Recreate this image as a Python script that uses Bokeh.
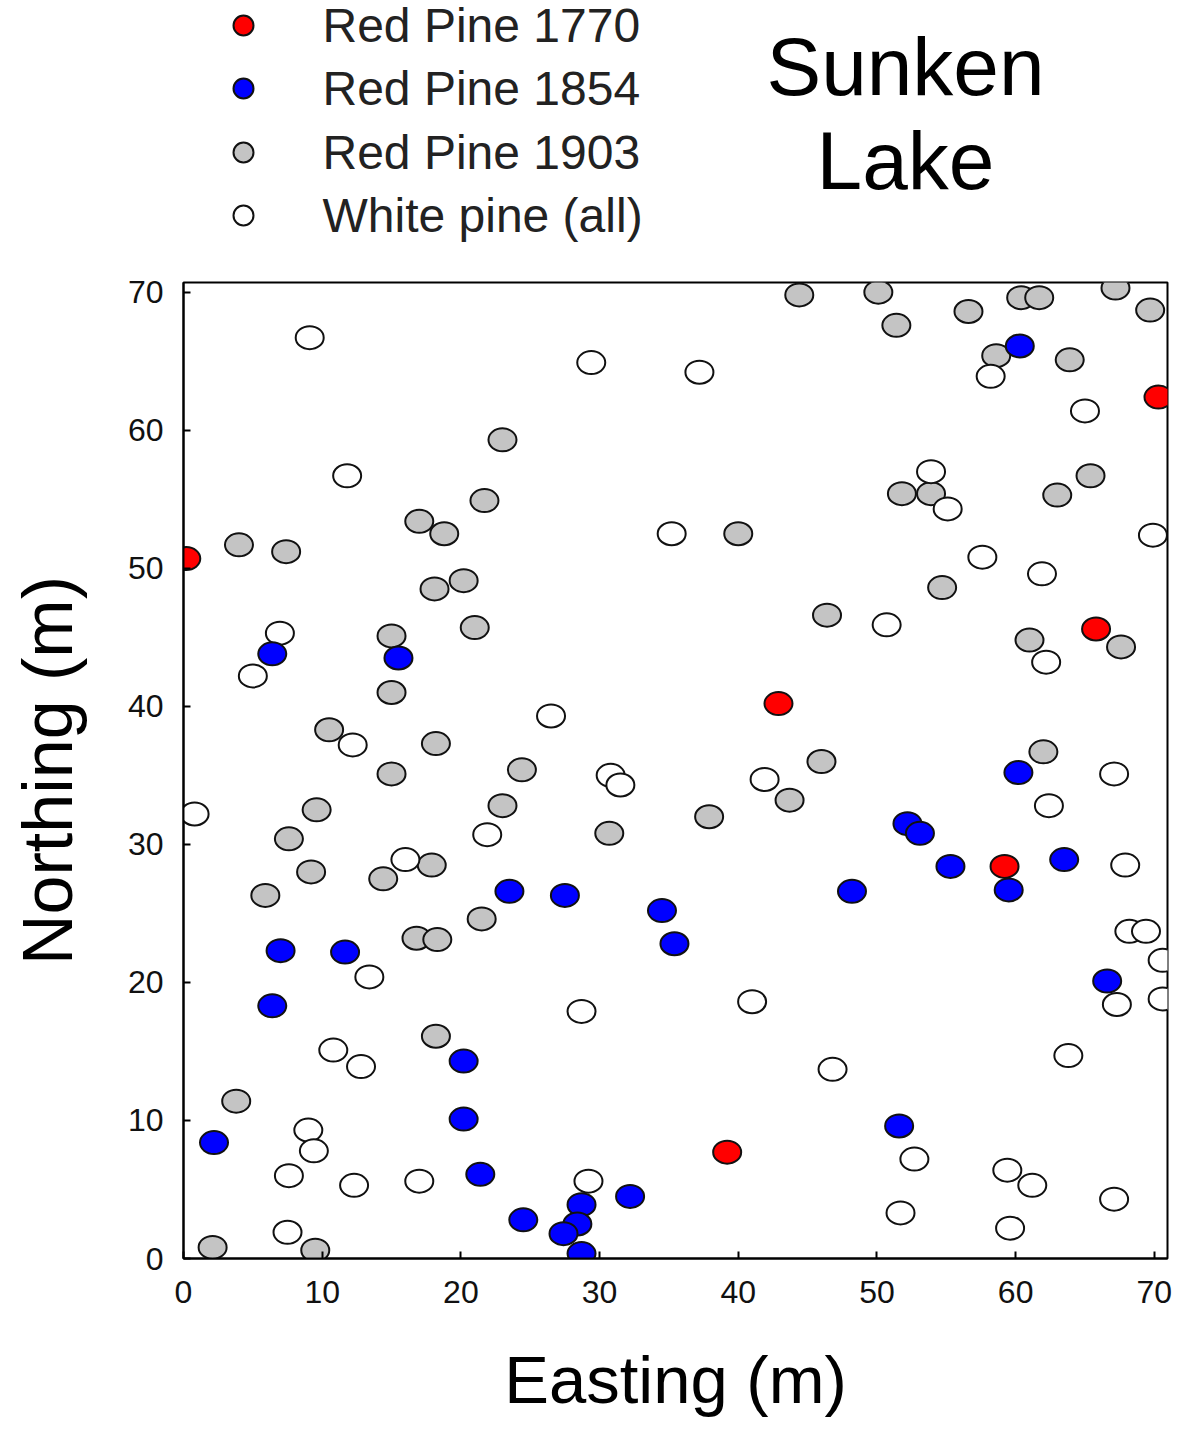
from bokeh.plotting import figure
from bokeh.models import Range1d, FixedTicker
from bokeh.layouts import column
from bokeh.embed import file_html
from bokeh.resources import INLINE
from bokeh.core.properties import value

# ---------------- data ----------------
series_names = ["Red Pine 1770", "Red Pine 1854", "Red Pine 1903", "White pine (all)"]
series_colors = ["#ff0000", "#0000ff", "#c4c4c4", "#ffffff"]

red1770_x = [0.2, 70.3, 65.8, 42.9, 59.2, 39.2]
red1770_y = [50.7, 62.4, 45.6, 40.2, 28.4, 7.7]

red1854_x = [60.3, 6.4, 15.5, 60.2, 52.2, 53.1, 55.3, 59.5, 63.5, 48.2, 66.6, 51.6,
             23.5, 27.5, 34.5, 35.4, 7.0, 11.65, 6.4, 20.2, 20.2, 21.4, 2.2, 24.5,
             32.2, 28.7, 28.4, 27.4, 28.7]
red1854_y = [66.1, 43.8, 43.5, 35.2, 31.5, 30.8, 28.4, 26.7, 28.9, 26.6, 20.1, 9.6,
             26.6, 26.3, 25.2, 22.8, 22.3, 22.2, 18.3, 14.3, 10.1, 6.1, 8.4, 2.8,
             4.5, 3.9, 2.5, 1.8, 0.36]

red1903_x = [23.0, 21.7, 17.0, 18.8, 4.0, 7.4, 18.1, 20.2,
             44.4, 40.0,
             50.1, 51.4, 56.6, 60.4, 61.7, 67.2, 69.7, 58.6, 63.9, 51.8, 53.9, 63.0, 65.4, 54.7,
             21.0, 15.0, 15.0, 10.5, 18.2, 15.0, 24.4, 9.6, 7.6, 23.0, 9.2, 5.9, 17.9, 14.4, 21.5,
             46.4, 46.0, 43.7, 37.9, 30.7,
             61.0, 67.6, 62.0,
             16.8, 18.3, 18.2, 3.8, 2.1, 9.5]
red1903_y = [59.3, 54.9, 53.4, 52.5, 51.7, 51.2, 48.5, 49.1,
             69.8, 52.5,
             70.0, 67.6, 68.6, 69.6, 69.6, 70.3, 68.7, 65.4, 65.1, 55.4, 55.4, 55.3, 56.7, 48.6,
             45.7, 45.1, 41.0, 38.3, 37.3, 35.1, 35.4, 32.5, 30.4, 32.8, 28.0, 26.3, 28.5, 27.5, 24.6,
             46.6, 36.0, 33.2, 32.0, 30.8,
             44.8, 44.3, 36.7,
             23.2, 23.1, 16.1, 11.4, 0.8, 0.6]

white_x = [9.1, 11.8, 29.4, 37.2, 35.2,
           58.2, 65.0, 53.9, 55.1, 69.9, 57.6, 61.9,
           6.95, 5.0, 12.2, 0.8, 21.9, 16.0,
           26.5, 30.8, 31.5, 41.9,
           50.7, 62.2, 67.1, 62.4, 67.9,
           13.4, 10.8, 12.8, 9.0, 9.4, 7.6, 12.3, 17.0, 7.5,
           28.7, 41.0, 46.8, 29.2,
           68.2, 69.4, 70.6, 70.6, 67.3, 63.8, 52.7, 59.4, 61.2, 51.7, 59.6, 67.1]
white_y = [66.7, 56.7, 64.9, 64.2, 52.5,
           63.9, 61.4, 57.0, 54.3, 52.4, 50.8, 49.6,
           45.3, 42.2, 37.2, 32.2, 30.7, 28.9,
           39.3, 35.0, 34.3, 34.7,
           45.9, 43.2, 35.1, 32.8, 28.5,
           20.4, 15.1, 13.9, 9.3, 7.8, 6.0, 5.3, 5.6, 1.9,
           17.9, 18.6, 13.7, 5.6,
           23.7, 23.7, 21.6, 18.8, 18.4, 14.7, 7.2, 6.4, 5.3, 3.3, 2.2, 4.3]

x_ticks = [0, 10, 20, 30, 40, 50, 60, 70]
y_ticks = [0, 10, 20, 30, 40, 50, 60, 70]
title_lines = ["Sunken", "Lake"]
x_label = "Easting (m)"
y_label = "Northing (m)"

FONT = "Liberation Sans"
W = 1175
BL, BR = 183, 8          # left / right borders so both frames align
FRAME_R = W - BR
HEAD_H = 272

# ---------------- header (legend + title) ----------------
h = figure(width=W, height=HEAD_H, x_range=Range1d(BL, FRAME_R), y_range=Range1d(HEAD_H, 0),
           output_backend="svg", toolbar_location=None,
           x_axis_location=None, y_axis_location=None,
           min_border_left=BL, min_border_right=BR, min_border_top=0, min_border_bottom=0)
h.grid.visible = False
h.outline_line_color = None

leg_y = [25, 88, 152, 215]
leg_x = [243] * 4
h.scatter(leg_x, leg_y, size=20, marker="circle", fill_color=series_colors,
          line_color="#111111", line_width=2)
h.text([322] * 4, leg_y, text=series_names, text_font=value(FONT),
       text_font_size="48px", text_baseline="middle", text_align="left",
       text_color="#222222")
h.text([905, 905], [66, 160], text=title_lines, text_font=value(FONT),
       text_font_size="82px", text_baseline="middle", text_align="center",
       text_color="#000000")

# ---------------- main plot ----------------
p = figure(width=W, height=1170, x_range=Range1d(0, 70.95), y_range=Range1d(0, 70.7),
           output_backend="svg", toolbar_location=None,
           min_border_left=BL, min_border_right=BR, min_border_top=10, min_border_bottom=184)
p.grid.visible = False
p.outline_line_color = "#000000"
p.outline_line_width = 2

MW, MH = 28, 23
common = dict(width=MW, height=MH, width_units="screen", height_units="screen",
              line_color="#111111", line_width=2)
p.ellipse(red1903_x, red1903_y, fill_color=series_colors[2], **common)
p.ellipse(white_x, white_y, fill_color=series_colors[3], **common)
p.ellipse(red1770_x, red1770_y, fill_color=series_colors[0], **common)
p.ellipse(red1854_x, red1854_y, fill_color=series_colors[1], **common)

p.xaxis.ticker = FixedTicker(ticks=x_ticks)
p.yaxis.ticker = FixedTicker(ticks=y_ticks)
for ax in (p.xaxis, p.yaxis):
    ax.axis_line_width = 2
    ax.axis_line_color = "#000000"
    ax.major_tick_in = 7
    ax.major_tick_out = 0
    ax.major_tick_line_width = 2
    ax.minor_tick_line_color = None
    ax.major_label_text_font = FONT
    ax.major_label_text_font_size = "32px"
    ax.major_label_text_color = "#111111"
    ax.axis_label_text_font = FONT
    ax.axis_label_text_font_style = "normal"
    ax.axis_label_text_color = "#000000"

p.xaxis.axis_label = x_label
p.yaxis.axis_label = y_label
p.xaxis.axis_label_text_font_size = "67px"
p.yaxis.axis_label_text_font_size = "70px"
p.xaxis.major_label_standoff = 22
p.yaxis.major_label_standoff = 20
p.xaxis.axis_label_standoff = 36
p.yaxis.axis_label_standoff = 38

layout = column(h, p, spacing=0)
open("out.html", "w").write(file_html(layout, INLINE))
